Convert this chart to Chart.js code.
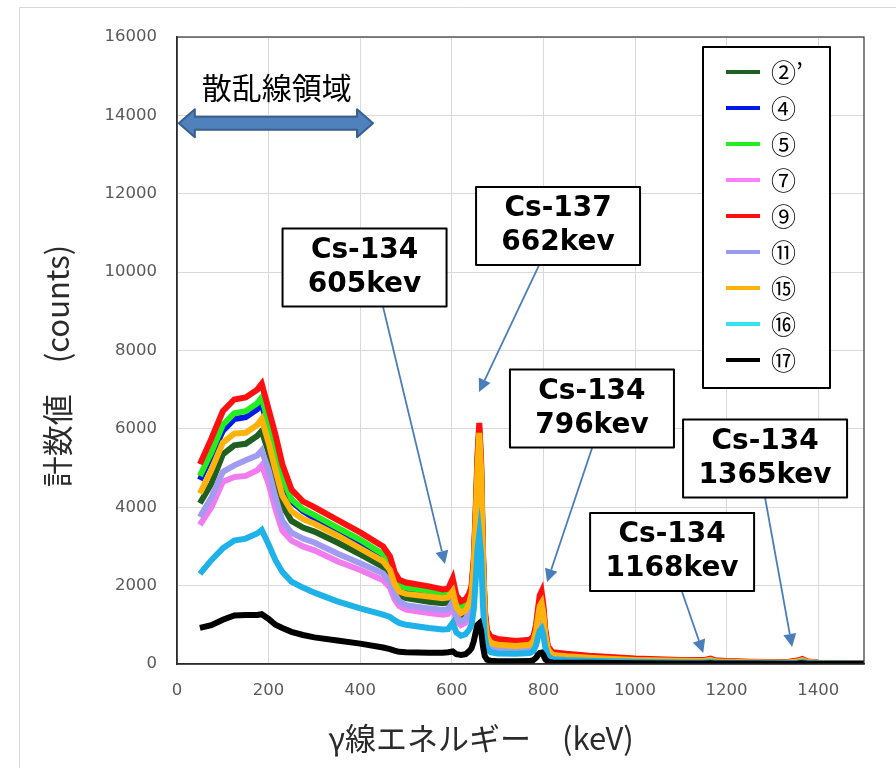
<!DOCTYPE html>
<html><head><meta charset="utf-8">
<script src="https://cdn.jsdelivr.net/npm/chart.js@4.4.1/dist/chart.umd.min.js"></script>
<style>html,body{margin:0;padding:0;background:#fff;}#wrap{width:896px;height:768px;position:relative;}</style>
</head><body><div id="wrap"><canvas id="c"></canvas></div>
<script>
// ---- data (keV / counts) ----
const energies = [50,75,100,125,150,175,185,200,215,230,
 250,275,300,350,400,450,465,475,485,500,
 550,580,592,602,610,620,630,638,643,648,
 652,656,660,664,668,672,677,685,700,740,
 770,778,784,788,792,796,800,804,810,820,
 850,900,1000,1100,1150,1165,1175,1200,1250,1330,
 1355,1365,1375,1400,1500];

const seriesLabels = ["②’","④","⑤","⑦","⑨","⑪","⑮","⑯","⑰"];

const s02 = [4100,4600,5350,5580,5620,5820,5950,5400,4700,4050,
 3650,3480,3380,3100,2800,2480,2250,1950,1750,1680,
 1590,1550,1570,1760,1380,1230,1300,1480,1700,2450,
 3600,4900,5800,4850,2650,1180,660,500,450,420,
 450,540,800,1120,1400,1460,1200,720,350,215,
 180,150,100,75,70,100,65,52,42,33,
 62,95,52,26,15];
const s04 = [4700,5300,5950,6250,6300,6500,6650,6000,5300,4650,
 4150,3900,3720,3420,3100,2750,2500,2150,1960,1900,
 1830,1780,1800,1980,1570,1420,1490,1660,1860,2550,
 3700,5100,5950,5000,2750,1280,760,600,540,500,
 530,620,900,1250,1580,1650,1350,800,390,250,
 210,170,115,85,80,115,75,60,48,38,
 70,105,58,28,17];
const s05 = [4800,5400,6100,6400,6450,6650,6800,6150,5450,4750,
 4200,3950,3800,3480,3170,2800,2550,2200,2000,1950,
 1870,1820,1840,2030,1600,1450,1520,1700,1900,2600,
 3800,5200,6050,5100,2800,1300,780,620,560,520,
 550,640,930,1300,1620,1700,1400,820,400,260,
 220,180,120,90,85,120,80,65,50,40,
 75,110,60,30,18];
const s07 = [3550,4000,4650,4770,4800,4940,5070,4600,3950,3400,
 3150,3000,2900,2620,2400,2140,1950,1650,1480,1390,
 1300,1260,1280,1470,1100,990,1050,1250,1450,2150,
 3200,4400,5200,4350,2350,1030,550,400,360,340,
 370,450,690,980,1250,1300,1080,630,300,180,
 150,120,82,60,58,85,55,44,36,28,
 52,80,45,22,13];
const s09 = [5100,5750,6450,6750,6800,7000,7150,6500,5850,5100,
 4450,4150,4000,3680,3360,3000,2750,2350,2150,2080,
 1980,1900,1920,2180,1750,1600,1650,1800,1980,2700,
 3900,5300,6150,5200,2900,1400,850,700,640,590,
 620,700,1000,1400,1750,1850,1500,900,450,300,
 260,210,140,105,100,140,95,75,60,45,
 90,130,70,35,20];
const s11 = [3750,4250,4900,5070,5200,5320,5450,4950,4250,3650,
 3350,3200,3100,2820,2570,2310,2100,1800,1600,1500,
 1420,1380,1400,1590,1200,1080,1150,1350,1550,2250,
 3300,4500,5300,4450,2450,1080,580,420,380,360,
 390,470,720,1020,1300,1360,1120,660,320,190,
 160,130,88,65,62,90,58,46,38,30,
 55,85,47,23,14];
const s15 = [4350,4950,5650,5880,5900,6100,6250,5650,4950,4300,
 3900,3700,3580,3280,2950,2620,2400,2050,1850,1790,
 1720,1680,1700,1860,1450,1300,1370,1550,1780,2500,
 3650,5000,5900,4950,2700,1220,700,540,490,460,
 490,580,850,1180,1480,1560,1280,760,370,230,
 195,160,105,80,75,105,70,55,45,35,
 65,100,55,27,16];
const s16 = [2300,2650,2950,3150,3200,3330,3420,3050,2650,2350,
 2100,1950,1820,1600,1420,1260,1200,1120,1050,1000,
 920,880,890,1050,800,720,760,880,1000,1400,
 2100,2900,3300,2800,1500,700,400,300,270,260,
 280,330,480,680,850,900,740,430,200,120,
 100,80,55,40,38,55,36,30,25,20,
 35,55,30,15,10];
const s17 = [920,990,1130,1240,1250,1250,1270,1150,1000,920,
 820,740,680,600,520,420,380,340,310,300,
 290,290,300,320,250,230,250,330,400,580,
 800,1000,1040,850,450,200,110,80,70,70,
 75,100,160,230,280,290,230,120,60,40,
 35,30,20,15,15,20,14,12,10,8,
 12,18,10,6,5];

const seriesValues = [s02,s04,s05,s07,s09,s11,s15,s16,s17];
const lineColors   = ["#1f5f1f","#0018e8","#22ee22","#f07cf0","#ff1010","#a29cf0","#ffb20a","#1fb2e8","#000000"];
const legendColors = ["#1f5f1f","#0018e8","#22ee22","#ff80ff","#ff1010","#9a9af0","#ffb20a","#33e3ee","#000000"];

const xTickValues = [0,200,400,600,800,1000,1200,1400];
const yTickValues = [0,2000,4000,6000,8000,10000,12000,14000,16000];

// annotations (data coordinates)
const annotTexts  = [["Cs-134","605kev"],["Cs-137","662kev"],["Cs-134","796kev"],["Cs-134","1168kev"],["Cs-134","1365kev"]];
const annotCenter = [[409.5,10117],[832,11176],[906,6519],[1081,2858],[1284,5244]];
const annotFrom   = [[450,9109],[790.6,10181],[906.3,5512],[1102.8,1837],[1284.1,4236]];
const annotTip    = [[585,2551],[659.5,6940],[808,2092],[1149,281],[1343,434]];
const scatterLabel = "散乱線領域";
const scatterArrow = [[4,13800],[428,13800]];
const scatterTextPos = [218,14700];

// ---- build ----
const datasets = seriesValues.map((vals,i)=>({
  label: seriesLabels[i],
  data: energies.map((e,k)=>({x:e,y:vals[k]})),
  showLine:true, borderColor:lineColors[i], backgroundColor:lineColors[i],
  borderWidth:6, pointRadius:0, tension:0, order: seriesValues.length - i,
  legendColor: legendColors[i]
}));

function arrowLine(ctx,x1,y1,x2,y2){
  const ang=Math.atan2(y2-y1,x2-x1), L=13, W=6.5;
  const bx=x2-L*Math.cos(ang), by=y2-L*Math.sin(ang);
  ctx.beginPath();ctx.moveTo(x1,y1);ctx.lineTo(bx,by);ctx.stroke();
  ctx.beginPath();ctx.moveTo(x2,y2);
  ctx.lineTo(bx+W*Math.sin(ang),by-W*Math.cos(ang));
  ctx.lineTo(bx-W*Math.sin(ang),by+W*Math.cos(ang));
  ctx.closePath();ctx.fill();
}

const decor = {
  id:'decor',
  beforeDraw(chart){
    const ctx=chart.ctx; ctx.save();
    ctx.fillStyle='#fff'; ctx.fillRect(0,0,chart.width,chart.height);
    ctx.strokeStyle='#d9d9d9'; ctx.lineWidth=1;
    ctx.beginPath(); ctx.moveTo(19.5,chart.height+5); ctx.lineTo(19.5,7.5); ctx.lineTo(chart.width+5,7.5); ctx.stroke();
    ctx.restore();
  },
  afterDraw(chart){
    const ctx=chart.ctx, a=chart.chartArea, xs=chart.scales.x, ys=chart.scales.y;
    const X=v=>xs.getPixelForValue(v), Y=v=>ys.getPixelForValue(v);
    ctx.save();
    // plot frame top/right
    ctx.strokeStyle='#333'; ctx.lineWidth=1.2;
    ctx.strokeRect(a.left,a.top,a.right-a.left,a.bottom-a.top);
    // axis titles
    ctx.fillStyle='#2b2b2b'; ctx.font='31px "Noto Sans CJK JP"'; ctx.textAlign='center'; ctx.textBaseline='middle';
    ctx.fillText("γ線エネルギー　(keV)", 481, 738);
    ctx.save(); ctx.translate(57,366); ctx.rotate(-Math.PI/2); ctx.fillText("計数値　(counts)",0,0); ctx.restore();
    // scatter region arrow
    const xl=X(scatterArrow[0][0]), xr=X(scatterArrow[1][0]), yc=Y(scatterArrow[0][1]);
    const bh=6.5, hh=14, hl=16;
    ctx.beginPath();
    ctx.moveTo(xl,yc); ctx.lineTo(xl+hl,yc-hh); ctx.lineTo(xl+hl,yc-bh); ctx.lineTo(xr-hl,yc-bh);
    ctx.lineTo(xr-hl,yc-hh); ctx.lineTo(xr,yc); ctx.lineTo(xr-hl,yc+hh); ctx.lineTo(xr-hl,yc+bh);
    ctx.lineTo(xl+hl,yc+bh); ctx.lineTo(xl+hl,yc+hh); ctx.closePath();
    ctx.fillStyle='#4f81bd'; ctx.fill(); ctx.strokeStyle='#3a5f8f'; ctx.lineWidth=2; ctx.lineJoin='round'; ctx.stroke();
    ctx.fillStyle='#000'; ctx.font='30px "Noto Sans CJK JP"';
    ctx.fillText(scatterLabel, X(scatterTextPos[0]), Y(scatterTextPos[1]));
    // peak annotations
    ctx.strokeStyle='#4a7ebb'; ctx.fillStyle='#4a7ebb'; ctx.lineWidth=1.8;
    annotTip.forEach((t,i)=>arrowLine(ctx,X(annotFrom[i][0]),Y(annotFrom[i][1]),X(t[0]),Y(t[1])));
    const bw=164, bhh=78;
    annotCenter.forEach((c,i)=>{
      const cx=X(c[0]), cy=Y(c[1]);
      ctx.fillStyle='#fff'; ctx.fillRect(cx-bw/2,cy-bhh/2,bw,bhh);
      ctx.strokeStyle='#000'; ctx.lineWidth=2; ctx.strokeRect(cx-bw/2,cy-bhh/2,bw,bhh);
      ctx.fillStyle='#000'; ctx.font='bold 28px "DejaVu Sans"'; ctx.textAlign='center'; ctx.textBaseline='middle';
      ctx.fillText(annotTexts[i][0],cx,cy-17); ctx.fillText(annotTexts[i][1],cx,cy+17);
    });
    // legend
    const lx=a.right-161, ly=a.top+10, lw=127, lh=341;
    ctx.fillStyle='#fff'; ctx.fillRect(lx,ly,lw,lh);
    ctx.strokeStyle='#000'; ctx.lineWidth=2; ctx.strokeRect(lx,ly,lw,lh);
    ctx.font='25px "Noto Sans CJK JP"'; ctx.textAlign='left'; ctx.textBaseline='middle';
    chart.data.datasets.forEach((d,i)=>{
      const yy=ly+25+i*36;
      ctx.strokeStyle=d.legendColor; ctx.lineWidth=4; ctx.lineCap='butt';
      ctx.beginPath(); ctx.moveTo(lx+23,yy); ctx.lineTo(lx+57,yy); ctx.stroke();
      ctx.fillStyle='#000'; ctx.fillText(d.label, lx+68, yy);
    });
    ctx.restore();
  }
};

new Chart(document.getElementById('c'),{
  type:'scatter',
  data:{datasets},
  options:{
    responsive:true, maintainAspectRatio:false, animation:false,
    layout:{padding:{left:0,top:37,right:32,bottom:0}},
    plugins:{legend:{display:false},tooltip:{enabled:false}},
    scales:{
      x:{type:'linear',min:0,max:1500,
        afterBuildTicks:s=>{s.ticks=xTickValues.map(v=>({value:v}));},
        afterFit:s=>{s.height=104;},
        ticks:{padding:17,color:'#595959',font:{family:'DejaVu Sans',size:16.5},callback:v=>String(v),maxRotation:0,autoSkip:false},
        grid:{color:'#d9d9d9',lineWidth:1,drawTicks:false},
        border:{display:true,color:'#222',width:1.5}
      },
      y:{type:'linear',min:0,max:16000,
        afterBuildTicks:s=>{s.ticks=yTickValues.map(v=>({value:v}));},
        afterFit:s=>{s.width=177;},
        ticks:{padding:20,color:'#595959',font:{family:'DejaVu Sans',size:16.5},callback:v=>String(v),autoSkip:false},
        grid:{color:'#d9d9d9',lineWidth:1,drawTicks:false},
        border:{display:true,color:'#222',width:1.5}
      }
    }
  },
  plugins:[decor]
});
</script></body></html>
